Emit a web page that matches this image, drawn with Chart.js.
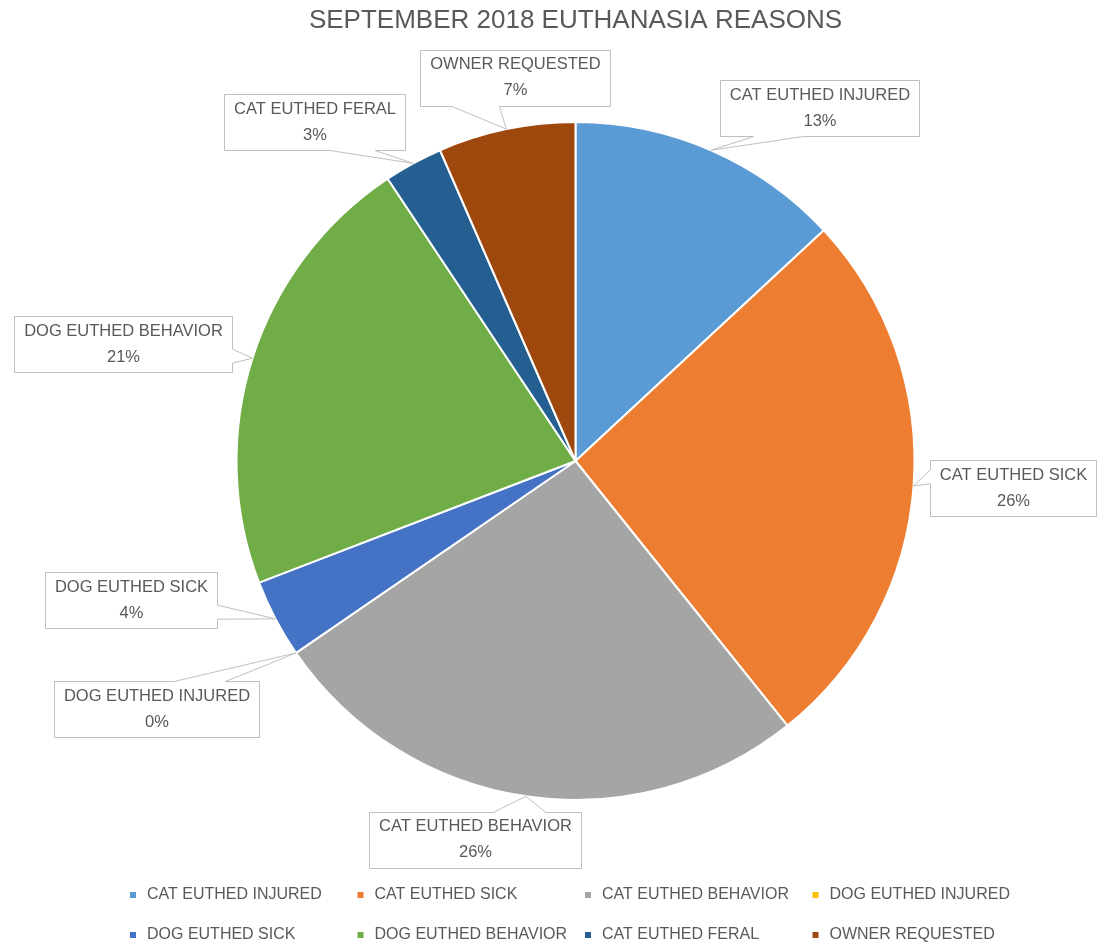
<!DOCTYPE html>
<html>
<head>
<meta charset="utf-8">
<title>September 2018 Euthanasia Reasons</title>
<script src="https://cdn.jsdelivr.net/npm/chart.js@4"></script>
<style>
  body { margin: 0; background: #fff; }
  #wrap { width: 1097px; height: 946px; position: relative; }
</style>
</head>
<body>
<div id="wrap"><canvas id="reasonsChart"></canvas></div>
<script>
// data
const categories = ['CAT EUTHED INJURED', 'CAT EUTHED SICK', 'CAT EUTHED BEHAVIOR', 'DOG EUTHED INJURED',
  'DOG EUTHED SICK', 'DOG EUTHED BEHAVIOR', 'CAT EUTHED FERAL', 'OWNER REQUESTED'];
const counts = [14, 28, 28, 0, 4, 23, 3, 7];
const sliceColors = ['#5B9BD5', '#ED7D31', '#A5A5A5', '#FFC000', '#4472C4', '#70AD47', '#255E91', '#9E480E'];
const chartTitle = 'SEPTEMBER 2018 EUTHANASIA REASONS';

const FONT = "'Liberation Sans', Arial, sans-serif";
const TEXT_GREY = '#595959';

// callout boxes (Excel-style wedge callouts)
const calloutPlugin = {
  id: 'callouts',
  afterDatasetsDraw(chart, args, opts) {
    const ctx = chart.ctx;
    const meta = chart.getDatasetMeta(0);
    const data = chart.data.datasets[0].data;
    const total = data.reduce((a, b) => a + b, 0);
    ctx.save();
    ctx.font = opts.fontSize + 'px ' + FONT;
    meta.data.forEach((arc, i) => {
      const p = arc.getProps(['x', 'y', 'startAngle', 'endAngle', 'outerRadius'], true);
      const mid = (p.startAngle + p.endAngle) / 2;
      const tx = p.x + Math.cos(mid) * p.outerRadius;
      const ty = p.y + Math.sin(mid) * p.outerRadius;
      const off = opts.offsets[i];
      const cx = p.x + off[0] * p.outerRadius;
      const cy = p.y + off[1] * p.outerRadius;
      const line1 = chart.data.labels[i];
      const line2 = Math.round(data[i] / total * 100) + '%';
      const w = Math.max(ctx.measureText(line1).width, ctx.measureText(line2).width) + opts.padX * 2;
      const h = opts.boxHeight;
      const l = Math.round(cx - w / 2) + 0.5, t = Math.round(cy - h / 2) + 0.5;
      const r = l + Math.round(w), b = t + h;

      const dxPos = tx - cx, dyPos = ty - cy;
      const dx = dxPos * h / w;
      let side;
      if (Math.abs(dx) >= Math.abs(dyPos)) side = dx < 0 ? 'left' : 'right';
      else side = dyPos < 0 ? 'top' : 'bottom';
      const x1 = w * (dxPos > 0 ? 7 : 2) / 12, x2 = w * (dxPos > 0 ? 10 : 5) / 12;
      const y1 = h * (dyPos > 0 ? 7 : 2) / 12, y2 = h * (dyPos > 0 ? 10 : 5) / 12;

      ctx.beginPath();
      ctx.moveTo(l, t);
      if (side === 'top') { ctx.lineTo(l + x1, t); ctx.lineTo(tx, ty); ctx.lineTo(l + x2, t); }
      ctx.lineTo(r, t);
      if (side === 'right') { ctx.lineTo(r, t + y1); ctx.lineTo(tx, ty); ctx.lineTo(r, t + y2); }
      ctx.lineTo(r, b);
      if (side === 'bottom') { ctx.lineTo(l + x2, b); ctx.lineTo(tx, ty); ctx.lineTo(l + x1, b); }
      ctx.lineTo(l, b);
      if (side === 'left') { ctx.lineTo(l, t + y2); ctx.lineTo(tx, ty); ctx.lineTo(l, t + y1); }
      ctx.closePath();
      ctx.fillStyle = '#ffffff';
      ctx.fill();
      ctx.lineWidth = 1;
      ctx.strokeStyle = '#BFBFBF';
      ctx.stroke();

      ctx.fillStyle = TEXT_GREY;
      ctx.textAlign = 'center';
      ctx.textBaseline = 'middle';
      ctx.fillText(line1, (l + r) / 2, cy - opts.lineGap / 2);
      ctx.fillText(line2, (l + r) / 2, cy + opts.lineGap / 2);
    });
    ctx.restore();
  }
};

// legend laid out in a 4 column grid like Excel does
const gridLegendPlugin = {
  id: 'gridLegend',
  afterDraw(chart, args, opts) {
    const ctx = chart.ctx;
    const ds = chart.data.datasets[0];
    ctx.save();
    ctx.font = opts.fontSize + 'px ' + FONT;
    ctx.textBaseline = 'middle';
    ctx.textAlign = 'left';
    chart.data.labels.forEach((lab, i) => {
      const col = i % opts.columns, row = Math.floor(i / opts.columns);
      const x = opts.left + col * opts.colWidth;
      const y = opts.top + row * opts.rowHeight;
      ctx.fillStyle = ds.backgroundColor[i];
      ctx.fillRect(x, Math.round(y - opts.box / 2), opts.box, opts.box);
      ctx.fillStyle = TEXT_GREY;
      ctx.fillText(lab, x + opts.box + 11, y);
    });
    ctx.restore();
  }
};

const ctx = document.getElementById('reasonsChart').getContext('2d');
const pieChart = new Chart(ctx, {
  type: 'pie',
  data: {
    labels: categories,
    datasets: [{
      data: counts,
      backgroundColor: sliceColors,
      borderColor: '#ffffff',
      borderWidth: 2
    }]
  },
  options: {
    responsive: true,
    maintainAspectRatio: false,
    animation: false,
    radius: 339,
    layout: { padding: { left: 54, right: 0, top: 0, bottom: 70.7 } },
    plugins: {
      legend: { display: false },
      tooltip: { enabled: false },
      title: {
        display: true,
        text: chartTitle,
        color: TEXT_GREY,
        font: { family: FONT, size: 26, weight: 'normal', lineHeight: 1.2 },
        padding: { top: 5.5, bottom: 10 }
      },
      callouts: {
        fontSize: 16.5,
        padX: 9.5,
        boxHeight: 56,
        lineGap: 26,
        // box centres, in units of the pie radius from the pie centre
        offsets: [
          [0.720, -1.041], [1.290, 0.081], [-0.298, 1.117], [-1.236, 0.732],
          [-1.311, 0.410], [-1.336, -0.344], [-0.770, -1.000], [-0.180, -1.131]
        ]
      },
      gridLegend: {
        fontSize: 16,
        columns: 4,
        left: 130,
        colWidth: 227.5,
        top: 895,
        rowHeight: 40,
        box: 6
      }
    }
  },
  plugins: [calloutPlugin, gridLegendPlugin]
});
</script>
</body>
</html>
